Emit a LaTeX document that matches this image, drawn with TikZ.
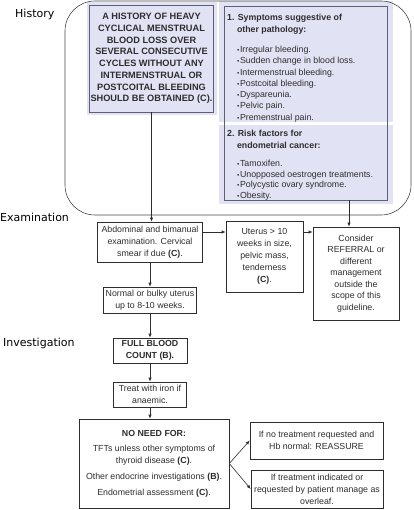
\documentclass[tikz,border=0pt]{standalone}
\usepackage{fontspec}
\setmainfont{Liberation Sans}
\newfontfamily\stagefont{DejaVu Sans}
\usetikzlibrary{arrows.meta,positioning,fit,calc}
\definecolor{panelfill}{RGB}{226,226,245}
\definecolor{panelline}{RGB}{95,95,115}
\definecolor{inkgray}{RGB}{45,45,45}
\definecolor{framegray}{RGB}{70,70,70}
\newcommand{\indt}{\hspace*{9.8pt}}
\newcommand{\bul}{\indt\makebox[3pt][l]{\fontsize{6.5}{6.5}\selectfont\textbullet}}
\tikzset{
    stage/.style={
        font=\stagefont\fontsize{11}{13}\selectfont,
        anchor=west,
        inner sep=0pt
    },
    panel/.style={
        draw=panelline,
        line width=0.8pt,
        inner sep=0pt
    },
    shade/.style={
        fill=panelfill,
        inner sep=0pt
    },
    note/.style={
        anchor=north west,
        inner sep=0pt,
        text=inkgray
    },
    flow/.style={
        draw=inkgray,
        line width=0.6pt,
        align=center,
        inner sep=2pt,
        text=inkgray,
        font=\fontsize{8.8}{12}\selectfont
    },
    arrow/.style={
        -{Latex[length=4pt,width=3.2pt]},
        line width=0.6pt,
        draw=inkgray
    }
}
\begin{document}
\begin{tikzpicture}[x=1pt, y=-1pt]
\useasboundingbox (0,0) rectangle (413,510);

% stage labels
\node[stage] (lhist) at (15,14) {History};
\node[stage] (lexam) at (0,217) {Examination};
\node[stage] (linv) at (3,343) {Investigation};

% history panels
\node[shade, minimum width=130pt, minimum height=113pt] (histbg) at (151.5,58.5) {};
\node[shade, anchor=north west, minimum width=174pt, minimum height=121pt] (sympbg) at (219,1) {};
\node[shade, anchor=north west, minimum width=174pt, minimum height=79pt] (riskbg) at (219,125) {};
\node[draw=framegray, line width=0.6pt, rounded corners=30pt, inner sep=0pt,
    minimum width=346pt, minimum height=214pt] (histframe) at (238,108) {};

\node[panel, minimum width=124pt, minimum height=107pt, align=center, text=inkgray,
    font=\bfseries\fontsize{9.2}{11.7}\selectfont] (hist) at (151.5,58.5)
    {A HISTORY OF HEAVY\\CYCLICAL MENSTRUAL\\BLOOD LOSS OVER\\SEVERAL CONSECUTIVE\\
     CYCLES WITHOUT ANY\\INTERMENSTRUAL OR\\POSTCOITAL BLEEDING\\SHOULD BE OBTAINED (C).};
\node[panel, anchor=north west, minimum width=163pt, minimum height=194pt] (factors) at (224,6) {};

\node[note, font=\fontsize{8.8}{11.3}\selectfont] (symp) at (227,12.3)
    {\begin{tabular}{@{}l@{}}
     \textbf{1. Symptoms suggestive of}\\[0.7pt]
     \indt\textbf{other pathology:}\\[8.7pt]
     \bul Irregular bleeding.\\
     \bul Sudden change in blood loss.\\
     \bul Intermenstrual bleeding.\\
     \bul Postcoital bleeding.\\
     \bul Dyspareunia.\\
     \bul Pelvic pain.\\
     \bul Premenstrual pain.
     \end{tabular}};
\node[note, font=\fontsize{8.8}{10.7}\selectfont] (risk) at (227,128.7)
    {\begin{tabular}{@{}l@{}}
     \textbf{2. Risk factors for}\\[1.3pt]
     \indt\textbf{endometrial cancer:}\\[7.3pt]
     \bul Tamoxifen.\\
     \bul Unopposed oestrogen treatments.\\
     \bul Polycystic ovary syndrome.\\
     \bul Obesity.
     \end{tabular}};

% examination
\node[flow, minimum width=105pt, minimum height=40pt] (exam) at (150,242)
    {Abdominal and bimanual\\examination. Cervical\\smear if due \textbf{(C)}.};
\node[flow, minimum width=77pt, minimum height=71pt] (uterus) at (264.5,256.5)
    {Uterus > 10\\weeks in size,\\pelvic mass,\\tenderness\\\textbf{(C)}.};
\node[flow, minimum width=86pt, minimum height=93pt, font=\fontsize{8.8}{11.5}\selectfont]
    (consider) at (356,273.5)
    {Consider\\REFERRAL or\\different\\management\\outside the\\scope of this\\guideline.};
\node[flow, minimum width=86pt, minimum height=26pt] (normal) at (150,300)
    {Normal or bulky uterus\\up to 8-10 weeks.};

% investigation
\node[flow, minimum width=74pt, minimum height=25pt, font=\bfseries\fontsize{8.8}{12}\selectfont]
    (fbc) at (150,350.5) {FULL BLOOD\\COUNT (B).};
\node[flow, minimum width=73pt, minimum height=25pt] (treat) at (150,394.5)
    {Treat with iron if\\anaemic.};
\node[flow, minimum width=150pt, minimum height=89pt] (noneed) at (154,463.5)
    {\textbf{NO NEED FOR:}\\[3pt]
     TFTs unless other symptoms of\\thyroid disease \textbf{(C)}.\\[4pt]
     Other endocrine investigations \textbf{(B)}.\\[4pt]
     Endometrial assessment \textbf{(C)}.};
\node[flow, minimum width=133pt, minimum height=37pt] (reass) at (316.5,440.5)
    {If no treatment requested and\\Hb normal: REASSURE};
\node[flow, minimum width=132pt, minimum height=38pt] (overleaf) at (317,489)
    {If treatment indicated or\\requested by patient manage as\\overleaf.};

% connectors
\coordinate (p1) at (349,200);
\draw[arrow] (hist.south) -- (hist.south |- exam.north);
\draw[arrow] (p1) -- (p1 |- consider.north);
\draw[arrow] ([yshift=10pt]exam.east) -- ([yshift=10pt]exam.east -| uterus.west);
\draw[arrow] ([yshift=10pt]exam.east -| uterus.east) -- ([yshift=10pt]exam.east -| consider.west);
\draw[arrow] (exam) -- (normal);
\draw[arrow] (normal) -- (fbc);
\draw[arrow] (fbc) -- (treat);
\draw[arrow] (treat.south) -- (treat.south |- noneed.north);
\draw[arrow] (noneed.east) -- (reass.west);
\draw[arrow] (noneed.east) -- (overleaf.west);

\end{tikzpicture}
\end{document}
